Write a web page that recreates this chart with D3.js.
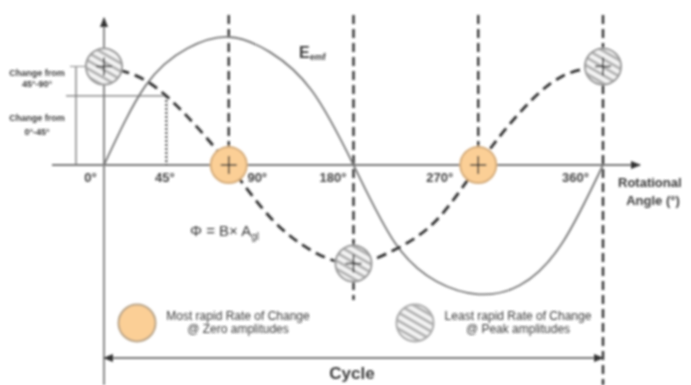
<!DOCTYPE html>
<html>
<head>
<meta charset="utf-8">
<script src="https://cdn.jsdelivr.net/npm/d3@7"></script>
<style>
  html, body { margin: 0; padding: 0; background: #fff; }
  svg { display: block; }
  text { font-family: "Liberation Sans", Arial, sans-serif; fill: #3a3a3a; }
</style>
</head>
<body>
<div id="chart"></div>
<script>
/* global d3:true */

// values
const angles = [0, 30, 60, 90, 120, 150, 180, 210, 240, 270, 300, 330, 360];
const emf = [0, 0.62, 0.91, 1, 0.88, 0.58, 0, -0.61, -0.91, -1.01, -0.94, -0.62, 0];
const flux = [0.77, 0.66, 0.38, 0, -0.41, -0.67, -0.77, -0.66, -0.43, 0, 0.41, 0.69, 0.77];
const tickAngles = [0, 45, 90, 180, 270, 360];
const tickLabels = ['0°', '45°', '90°', '180°', '270°', '360°'];
const zeroAngles = [90, 270];
const peakAngles = [0, 180, 360];
const peakFlux = [0.77, -0.77, 0.77];
const flux45 = 0.54;

const width = 691;
const height = 385;

const x = d3.scaleLinear().domain([0, 360]).range([104, 603]);
const y = d3.scaleLinear().domain([-1, 1]).range([293, 37]);
const baseY = y(0);

const svg = d3.select('#chart').append('svg')
    .attr('width', width)
    .attr('height', height);

const defs = svg.append('defs');

// reference is a soft low-res scan
defs.append('filter')
    .attr('id', 'soft')
    .attr('filterUnits', 'userSpaceOnUse')
    .attr('x', 0).attr('y', 0)
    .attr('width', width).attr('height', height)
    .append('feGaussianBlur')
    .attr('stdDeviation', 1);

const hatch = defs.append('pattern')
    .attr('id', 'hatch')
    .attr('patternUnits', 'userSpaceOnUse')
    .attr('width', 7).attr('height', 7)
    .attr('patternTransform', 'rotate(30)');
hatch.append('rect').attr('width', 7).attr('height', 7).attr('fill', '#f4f4f4');
hatch.append('rect').attr('width', 7).attr('height', 3).attr('fill', '#b4b4b4');

const arrow = (id, orient) => defs.append('marker')
    .attr('id', id)
    .attr('viewBox', '0 0 10 10')
    .attr('refX', 9).attr('refY', 5)
    .attr('markerWidth', 10).attr('markerHeight', 10)
    .attr('markerUnits', 'userSpaceOnUse')
    .attr('orient', orient)
    .append('path')
    .attr('d', 'M0,1L10,5L0,9Z')
    .attr('fill', '#333');
arrow('arrowEnd', 'auto');
arrow('arrowStart', 'auto-start-reverse');

const root = svg.append('g').attr('filter', 'url(#soft)');

// rotational axis and vertical axis
const axis = root.append('g')
    .attr('transform', `translate(0,${baseY})`)
    .call(d3.axisBottom(x)
        .tickValues(tickAngles)
        .tickFormat((d, i) => tickLabels[i])
        .tickSize(0));
axis.select('.domain').remove();
const labelShift = [-14, -2, 28, -21, -39, -28];
axis.selectAll('text')
    .attr('dx', (d, i) => labelShift[i])
    .attr('y', 8)
    .attr('font-size', 13)
    .attr('font-weight', 'bold')
    .attr('font-family', '"Liberation Sans", Arial, sans-serif')
    .style('fill', '#444');

root.append('line')
    .attr('x1', 52).attr('x2', 640)
    .attr('y1', baseY).attr('y2', baseY)
    .attr('stroke', '#777').attr('stroke-width', 2)
    .attr('marker-end', 'url(#arrowEnd)');

root.append('line')
    .attr('x1', x(0)).attr('x2', x(0))
    .attr('y1', height).attr('y2', 18)
    .attr('stroke', '#888').attr('stroke-width', 2)
    .attr('marker-end', 'url(#arrowEnd)');

// vertical dashed guides
const guideEnds = [baseY, 300, baseY, height];
root.selectAll('.guide')
    .data([90, 180, 270, 360])
    .enter()
    .append('line')
    .attr('class', 'guide')
    .attr('x1', (d) => x(d)).attr('x2', (d) => x(d))
    .attr('y1', 15)
    .attr('y2', (d, i) => guideEnds[i])
    .attr('stroke', '#333')
    .attr('stroke-width', 2.4)
    .attr('stroke-dasharray', '9 5');

// left hand measures
root.append('line')
    .attr('x1', 76).attr('x2', 76)
    .attr('y1', y(0.77)).attr('y2', baseY)
    .attr('stroke', '#777').attr('stroke-width', 1.3);
root.append('line')
    .attr('x1', 70).attr('x2', x(0))
    .attr('y1', y(0.77)).attr('y2', y(0.77))
    .attr('stroke', '#888').attr('stroke-width', 1);
root.append('line')
    .attr('x1', 66).attr('x2', x(45))
    .attr('y1', y(flux45)).attr('y2', y(flux45))
    .attr('stroke', '#777').attr('stroke-width', 1.2);
root.append('line')
    .attr('x1', x(45)).attr('x2', x(45))
    .attr('y1', y(flux45)).attr('y2', baseY)
    .attr('stroke', '#333').attr('stroke-width', 2)
    .attr('stroke-dasharray', '2 2');

const curve = d3.line()
    .x((d, i) => x(angles[i]))
    .y((d) => y(d))
    .curve(d3.curveNatural);

// emf sine
root.append('path')
    .datum(emf)
    .attr('d', curve)
    .attr('fill', 'none')
    .attr('stroke', '#777')
    .attr('stroke-width', 1.8);

// flux cosine
root.append('path')
    .datum(flux)
    .attr('d', curve)
    .attr('fill', 'none')
    .attr('stroke', '#333')
    .attr('stroke-width', 2.8)
    .attr('stroke-dasharray', '10 6');

const crossMark = (g, cx, cy) => {
    g.append('line')
        .attr('x1', cx - 8).attr('x2', cx + 8)
        .attr('y1', cy).attr('y2', cy)
        .attr('stroke', '#333').attr('stroke-width', 1.6);
    g.append('line')
        .attr('x1', cx).attr('x2', cx)
        .attr('y1', cy - 9).attr('y2', cy + 9)
        .attr('stroke', '#333').attr('stroke-width', 1.6);
};

// orange markers at zero crossings
zeroAngles.forEach((a) => {
    root.append('circle')
        .attr('cx', x(a)).attr('cy', baseY).attr('r', 18)
        .attr('fill', '#fbcf96').attr('stroke', '#d6ad7c').attr('stroke-width', 2);
    crossMark(root, x(a), baseY);
});

// hatched markers at peaks
peakAngles.forEach((a, i) => {
    root.append('circle')
        .attr('cx', x(a)).attr('cy', y(peakFlux[i])).attr('r', 18)
        .attr('fill', 'url(#hatch)').attr('stroke', '#999').attr('stroke-width', 2);
    crossMark(root, x(a), y(peakFlux[i]));
});

const label = (px, py, str, size, weight, anchor) => root.append('text')
    .attr('x', px).attr('y', py)
    .attr('font-size', size)
    .attr('font-weight', weight || 'normal')
    .attr('text-anchor', anchor || 'middle')
    .text(str);

label(37, 76, 'Change from', 9, 'bold');
label(37, 87, '45°-90°', 9, 'bold');
label(37, 121, 'Change from', 9, 'bold');
label(37, 135, '0°-45°', 9, 'bold');

label(618, 187, 'Rotational', 13, 'bold', 'start');
label(653, 205, 'Angle (°)', 13, 'bold');

// E emf label
const emfLabel = label(299, 58, 'E', 16, 'bold', 'start');
emfLabel.append('tspan').attr('font-size', 9).attr('dy', 2).text('emf');

const fluxLabel = label(190, 236, 'Φ = B× A', 15, 'normal', 'start');
fluxLabel.append('tspan').attr('font-size', 10).attr('dy', 4).text('gl');

// legend
root.append('circle')
    .attr('cx', 137).attr('cy', 323).attr('r', 18.5)
    .attr('fill', '#fbcf96').attr('stroke', '#b9a488').attr('stroke-width', 2);
root.append('circle')
    .attr('cx', 415).attr('cy', 323).attr('r', 18.5)
    .attr('fill', 'url(#hatch)').attr('stroke', '#aaa').attr('stroke-width', 2);

label(238, 320, 'Most rapid Rate of Change', 12, 'normal');
label(238, 333, '@ Zero amplitudes', 12, 'normal');
label(518, 320, 'Least rapid Rate of Change', 12, 'normal');
label(518, 333, '@ Peak amplitudes', 12, 'normal');

// cycle span
root.append('line')
    .attr('x1', x(0)).attr('x2', x(360))
    .attr('y1', 358).attr('y2', 358)
    .attr('stroke', '#777').attr('stroke-width', 1.8)
    .attr('marker-start', 'url(#arrowStart)')
    .attr('marker-end', 'url(#arrowEnd)');
label(352, 379, 'Cycle', 17, 'bold');
</script>
</body>
</html>
